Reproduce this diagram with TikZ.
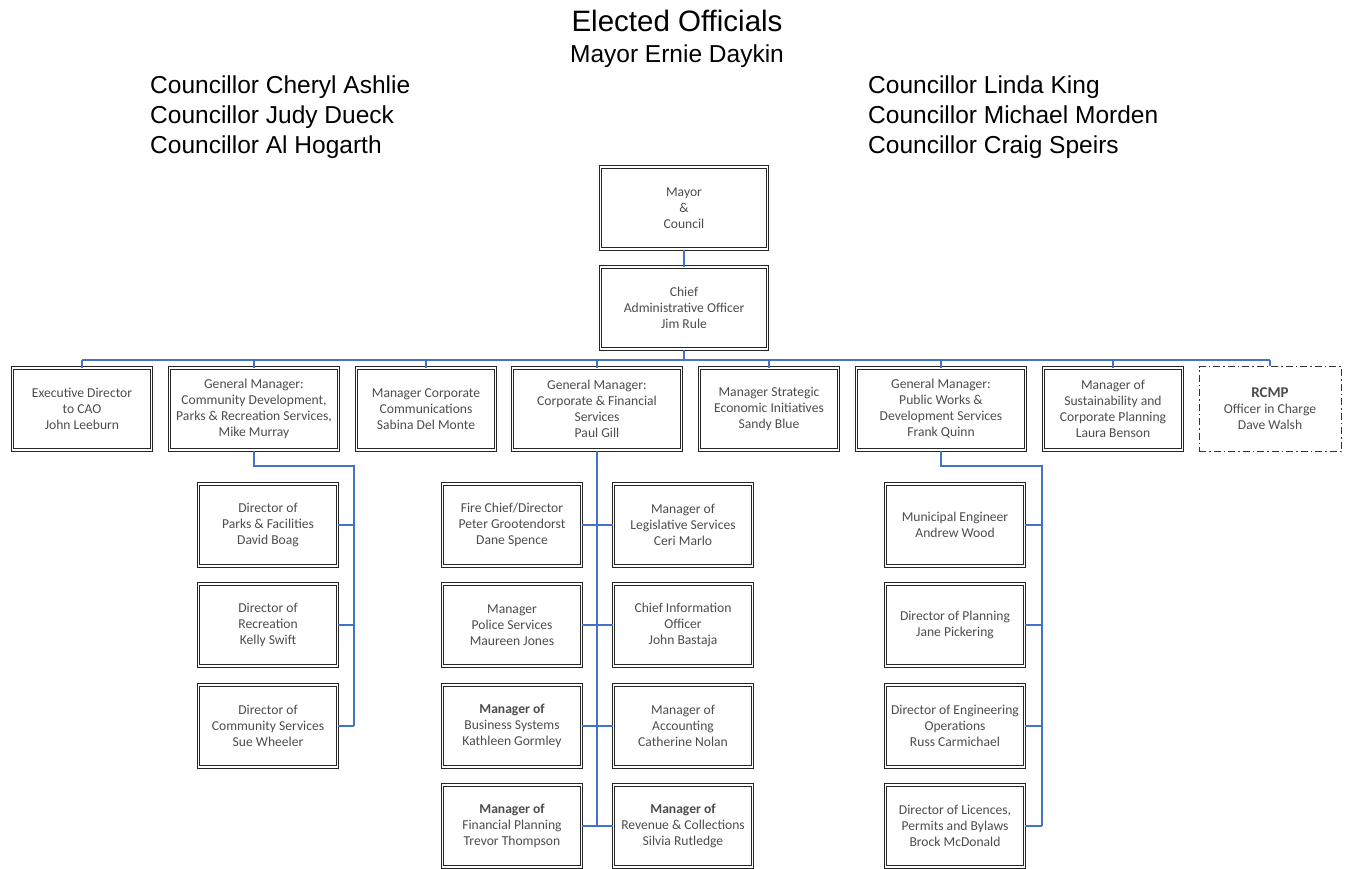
\documentclass[tikz,border=0pt]{standalone}
\usepackage{fontspec}
\setmainfont{Carlito}
\newfontfamily\headfont{Liberation Sans}
\usetikzlibrary{positioning, calc}

\definecolor{linkblue}{RGB}{68,114,196}

\begin{document}
\begin{tikzpicture}[x=1pt, y=-1pt, align=center,
  box/.style={draw=black!85, double, double distance=1.3pt, line width=1pt,
    text=black!70, font=\fontsize{13.6}{16}\selectfont, inner sep=0pt,
    minimum width=#1, minimum height=82pt},
  box/.default=139pt,
  link/.style={draw=linkblue, line width=1.4pt},
  head/.style={font=\headfont\fontsize{24.5}{30}\selectfont, inner sep=0pt}]
\useasboundingbox (0,0) rectangle (1346,869);

% elected officials
\node[head, font=\headfont\fontsize{29.5}{34}\selectfont] (elected) at (677,21) {Elected Officials};
\node[head] (mayor) at (677,56) {Mayor Ernie Daykin};
\node[head, anchor=west, align=left] (leftcouncil) at (150,117) {Councillor Cheryl Ashlie\\Councillor Judy Dueck\\Councillor Al Hogarth};
\node[head, anchor=west, align=left] (rightcouncil) at (868,117) {Councillor Linda King\\Councillor Michael Morden\\Councillor Craig Speirs};

% top
\node[box=167pt] (mc) at (684,208) {Mayor\\\&\\Council};
\node[box=167pt] (cao) at (684,308) {Chief\\Administrative Officer\\Jim Rule};

% first row
\node[box] (ed) at (82,409) {Executive Director\\to CAO\\John Leeburn};
\node[box=169pt] (gmcd) at (254,409) {General Manager:\\Community Development,\\Parks \& Recreation Services,\\Mike Murray};
\node[box] (mcc) at (426,409) {Manager Corporate\\Communications\\Sabina Del Monte};
\node[box=169pt] (gmcf) at (597,409) {General Manager:\\Corporate \& Financial\\Services\\Paul Gill};
\node[box] (mse) at (769,409) {Manager Strategic\\Economic Initiatives\\Sandy Blue};
\node[box=169pt] (gmpw) at (941,409) {General Manager:\\Public Works \&\\Development Services\\Frank Quinn};
\node[box] (msp) at (1113,409) {Manager of\\Sustainability and\\Corporate Planning\\Laura Benson};
\node[box, draw=black!80, line width=0.8pt, double=none, dash pattern=on 7pt off 3pt on 1.5pt off 3pt, minimum width=142pt, minimum height=85pt] (rcmp) at (1270,409) {{\fontsize{15}{18}\selectfont\textbf{RCMP}}\\Officer in Charge\\Dave Walsh};

% community development
\node[box] (ppf) at (268,525) {Director of\\Parks \& Facilities\\David Boag};
\node[box] (rec) at (268,625) {Director of\\Recreation\\Kelly Swift};
\node[box] (cs) at (268,726) {Director of\\Community Services\\Sue Wheeler};

% corporate & financial
\node[box] (fire) at (512,525) {Fire Chief/Director\\Peter Grootendorst\\Dane Spence};
\node[box] (leg) at (683,525) {Manager of\\Legislative Services\\Ceri Marlo};
\node[box] (police) at (512,625) {Manager\\Police Services\\Maureen Jones};
\node[box] (cio) at (683,625) {Chief Information\\Officer\\John Bastaja};
\node[box] (bus) at (512,726) {\textbf{Manager of}\\Business Systems\\Kathleen Gormley};
\node[box] (acc) at (683,726) {Manager of\\Accounting\\Catherine Nolan};
\node[box] (fin) at (512,826) {\textbf{Manager of}\\Financial Planning\\Trevor Thompson};
\node[box] (rev) at (683,826) {\textbf{Manager of}\\Revenue \& Collections\\Silvia Rutledge};

% public works
\node[box] (eng) at (955,525) {Municipal Engineer\\Andrew Wood};
\node[box] (plan) at (955,625) {Director of Planning\\Jane Pickering};
\node[box] (ops) at (955,726) {Director of Engineering\\Operations\\Russ Carmichael};
\node[box] (lic) at (955,826) {Director of Licences,\\Permits and Bylaws\\Brock McDonald};

% connectors
\coordinate (bus0) at (684,360);
\coordinate (cdspine) at (354,466);
\coordinate (pwspine) at (1042,466);

\draw[link] (mc) -- (cao);
\draw[link] (cao) -- (bus0);
\draw[link] (ed.north |- bus0) -- (rcmp.north |- bus0);
\foreach \n in {ed, gmcd, mcc, gmcf, mse, gmpw, msp, rcmp}
  \draw[link] (\n.north |- bus0) -- (\n.north);

\draw[link] (gmcd.south) |- (cdspine) -- (cdspine |- cs.east);
\foreach \n in {ppf, rec, cs}
  \draw[link] (\n.east) -- (\n.east -| cdspine);

\draw[link] (gmcf.south) -- (gmcf.south |- fin.east);
\draw[link] (fire) -- (leg);
\draw[link] (police) -- (cio);
\draw[link] (bus) -- (acc);
\draw[link] (fin) -- (rev);

\draw[link] (gmpw.south) |- (pwspine) -- (pwspine |- lic.east);
\foreach \n in {eng, plan, ops, lic}
  \draw[link] (\n.east) -- (\n.east -| pwspine);
\end{tikzpicture}
\end{document}
